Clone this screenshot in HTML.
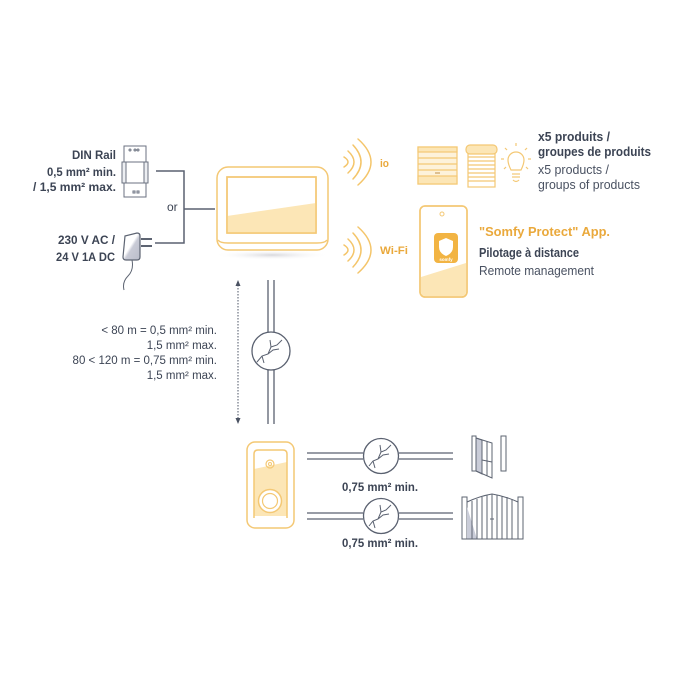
<!DOCTYPE html>
<html><head><meta charset="utf-8"><style>
html,body{margin:0;padding:0;background:#fff;}
svg{display:block;}
text{font-family:"Liberation Sans",sans-serif;}
</style></head><body>
<svg width="700" height="700" viewBox="0 0 700 700" xmlns="http://www.w3.org/2000/svg">
<defs>
<radialGradient id="sh" cx="50%" cy="50%" r="50%"><stop offset="0" stop-color="#d8d8dc"/><stop offset="1" stop-color="#ffffff" stop-opacity="0"/></radialGradient>
<linearGradient id="ad" x1="0" y1="0" x2="1" y2="1"><stop offset="0.45" stop-color="#ffffff"/><stop offset="0.55" stop-color="#c9cbd6"/><stop offset="1" stop-color="#b9bcc9"/></linearGradient>
</defs>
<rect width="700" height="700" fill="#fff"/>

<!-- Left texts -->
<g fill="#3c4454" font-weight="bold" font-size="12" text-anchor="end">
<text x="116" y="159" textLength="44" lengthAdjust="spacingAndGlyphs">DIN Rail</text>
<text x="116" y="176" textLength="69" lengthAdjust="spacingAndGlyphs">0,5 mm² min.</text>
<text x="116" y="191" textLength="83" lengthAdjust="spacingAndGlyphs">/ 1,5 mm² max.</text>
<text x="115" y="244" textLength="57" lengthAdjust="spacingAndGlyphs">230 V AC /</text>
<text x="115" y="261" textLength="59" lengthAdjust="spacingAndGlyphs">24 V 1A DC</text>
</g>
<text x="167" y="211" fill="#3c4454" font-size="12">or</text>

<!-- DIN rail icon -->
<g stroke="#6b7280" stroke-width="1" fill="#fff">
<rect x="124" y="146" width="22" height="51"/>
<rect x="122" y="162" width="26" height="21" fill="#eceef2"/>
<line x1="124" y1="162" x2="146" y2="162"/>
<line x1="124" y1="183" x2="146" y2="183"/>
<rect x="126" y="162" width="18" height="21" fill="#fff"/>
<circle cx="130" cy="150" r="1"/><circle cx="135" cy="150" r="1"/><circle cx="138" cy="150" r="1"/>
<rect x="133" y="191" width="2" height="2"/><rect x="137" y="191" width="2" height="2"/>
</g>
<!-- adapter -->
<g stroke="#5d6472" stroke-width="1.2">
<path d="M125 236 L137 233 Q140 233 140 236 L140 257 Q140 260 137 260 L126 260 Q123 260 123 257 Z" fill="url(#ad)"/>
<line x1="141" y1="239" x2="152" y2="239" stroke-width="2"/>
<line x1="141" y1="246" x2="152" y2="246" stroke-width="2"/>
<path d="M132 260 Q134 270 128 276 Q122 282 124 290" fill="none" stroke-width="1"/>
</g>
<!-- connectors -->
<g stroke="#5a6170" stroke-width="1.5" fill="none">
<path d="M156 171 H184 V243 H155"/>
<path d="M184 209 H215"/>
</g>

<!-- Monitor -->
<ellipse cx="272" cy="255" rx="58" ry="5" fill="url(#sh)"/>
<g stroke="#f4c874" stroke-width="1.5">
<rect x="217" y="167" width="111" height="83" rx="11" fill="#fff"/>
<path d="M218 240 Q220 243 228 243 H317 Q325 243 327 240" fill="none"/>
<rect x="227" y="177" width="89" height="56" fill="#fff"/>
<path d="M227 216 L316 203 L316 233 L227 233 Z" fill="#fce6b6" stroke="none"/>
<rect x="227" y="177" width="89" height="56" fill="none"/>
</g>

<!-- waves -->
<g stroke="#f4c56a" stroke-width="1.5" fill="none" stroke-linecap="round">
<path d="M344 157 Q352 162 344 167"/>
<path d="M348 151 Q360 162 348 173"/>
<path d="M353 145 Q369 162 353 179"/>
<path d="M358 139 Q384 162 358 185"/>
<path d="M344 245 Q352 250 344 255"/>
<path d="M348 239 Q360 250 348 261"/>
<path d="M353 233 Q369 250 353 267"/>
<path d="M358 227 Q384 250 358 273"/>
</g>
<g fill="#eaa93c" font-weight="bold" font-size="11">
<text x="380" y="167" textLength="9" lengthAdjust="spacingAndGlyphs">io</text>
<text x="380" y="254" textLength="28" lengthAdjust="spacingAndGlyphs">Wi-Fi</text>
</g>

<!-- products -->
<g stroke="#f4c874" stroke-width="1.2">
<rect x="418" y="147" width="39" height="37" fill="#fdf2da"/>
<rect x="418" y="147" width="39" height="5" fill="#fce6b6"/>
<line x1="418" y1="158" x2="457" y2="158"/>
<line x1="418" y1="164" x2="457" y2="164"/>
<line x1="418" y1="170" x2="457" y2="170"/>
<rect x="418" y="176" width="39" height="8" fill="#fce6b6"/>
<line x1="435" y1="173" x2="440" y2="173" stroke="#c9a060"/>
<rect x="468" y="151" width="27" height="36" fill="#fff"/>
<line x1="468" y1="157" x2="495" y2="157"/><line x1="468" y1="161" x2="495" y2="161"/>
<line x1="468" y1="165" x2="495" y2="165"/><line x1="468" y1="169" x2="495" y2="169"/>
<line x1="468" y1="173" x2="495" y2="173"/><line x1="468" y1="177" x2="495" y2="177"/>
<line x1="468" y1="181" x2="495" y2="181"/>
<rect x="466" y="145" width="31" height="9" rx="4" fill="#fce6b6"/>
<path d="M511 170 Q508 164 508 160 A8 8 0 1 1 524 160 Q524 164 521 170 Z" fill="#fff"/>
<line x1="512" y1="174" x2="520" y2="174"/><line x1="512" y1="177" x2="520" y2="177"/>
<path d="M513 180 Q516 183 519 180" fill="none"/>
<line x1="516" y1="143" x2="516" y2="146"/>
<line x1="505" y1="148" x2="507" y2="150"/><line x1="527" y1="148" x2="525" y2="150"/>
<line x1="501" y1="159" x2="504" y2="159"/><line x1="528" y1="159" x2="531" y2="159"/>
<line x1="504" y1="169" x2="506" y2="167"/><line x1="528" y1="169" x2="526" y2="167"/>
</g>
<g font-size="12.5">
<text x="538" y="141" fill="#3c4454" font-weight="bold" textLength="72" lengthAdjust="spacingAndGlyphs">x5 produits /</text>
<text x="538" y="156" fill="#3c4454" font-weight="bold" textLength="113" lengthAdjust="spacingAndGlyphs">groupes de produits</text>
<text x="538" y="174" fill="#4a5262" textLength="71" lengthAdjust="spacingAndGlyphs">x5 products /</text>
<text x="538" y="189" fill="#4a5262" textLength="102" lengthAdjust="spacingAndGlyphs">groups of products</text>
</g>

<!-- phone -->
<g stroke="#f4c874" stroke-width="1.5">
<rect x="420" y="206" width="47" height="91" rx="5" fill="#fff"/>
<path d="M421 277 L466 263 L466 292 Q466 296 462 296 L425 296 Q421 296 421 292 Z" fill="#fce6b6" stroke="none"/>
<rect x="420" y="206" width="47" height="91" rx="5" fill="none"/>
<circle cx="442" cy="214" r="2" fill="#fff" stroke-width="1"/>
</g>
<rect x="434" y="233" width="24" height="30" rx="4" fill="#f2b443"/>
<path d="M446 238 L453 241 L453 247 Q453 253 446 256 Q439 253 439 247 L439 241 Z" fill="#fff"/>
<text x="446" y="261" fill="#fff" font-size="4.5" font-weight="bold" text-anchor="middle">somfy</text>
<g font-size="12.5">
<text x="479" y="236" fill="#eaa93c" font-weight="bold" textLength="131" lengthAdjust="spacingAndGlyphs">"Somfy Protect" App.</text>
<text x="479" y="257" fill="#3c4454" font-weight="bold" textLength="100" lengthAdjust="spacingAndGlyphs">Pilotage à distance</text>
<text x="479" y="275" fill="#4a5262" textLength="115" lengthAdjust="spacingAndGlyphs">Remote management</text>
</g>

<!-- middle cable -->
<line x1="238" y1="285" x2="238" y2="419" stroke="#6b7280" stroke-width="1.2" stroke-dasharray="1.5 1.5"/>
<path d="M238 280 L235.5 286 L240.5 286 Z" fill="#4a5262"/>
<path d="M238 424 L235.5 418 L240.5 418 Z" fill="#4a5262"/>
<g stroke="#5a6170" stroke-width="1.3" fill="none">
<line x1="268" y1="280" x2="268" y2="332"/><line x1="274" y1="280" x2="274" y2="332"/>
<line x1="268" y1="370" x2="268" y2="424"/><line x1="274" y1="370" x2="274" y2="424"/>
<circle cx="271" cy="351" r="19" fill="#fff"/>
<path d="M257 362 L262 356 L268 354 L271 347 L270 340 M271 347 L277 345 L282 340 M262 356 L264 363 M268 354 L273 350 L279 349" stroke-width="1"/>
</g>
<g fill="#3c4454" font-size="11.5" text-anchor="end">
<text x="217" y="334">&lt; 80 m = 0,5 mm² min.</text>
<text x="217" y="349">1,5 mm² max.</text>
<text x="217" y="364">80 &lt; 120 m = 0,75 mm² min.</text>
<text x="217" y="379">1,5 mm² max.</text>
</g>

<!-- doorbell -->
<g stroke="#f4c874" stroke-width="1.5">
<rect x="247" y="442" width="47" height="86" rx="8" fill="#fff"/>
<path d="M254 469 L287 462 L287 516 L254 516 Z" fill="#fce6b6" stroke="none"/>
<path d="M254 518 V454 Q254 450 258 450 H283 Q287 450 287 454 V518" fill="none"/>
<circle cx="270" cy="464" r="4" fill="none" stroke-width="1.2"/>
<circle cx="270" cy="464" r="1.5" fill="none" stroke-width="1"/>
<circle cx="270" cy="501" r="11.5" fill="#fff"/>
<circle cx="270" cy="501" r="7.5" fill="#fff" stroke-width="1.2"/>
</g>

<!-- bottom wires -->
<g stroke="#5a6170" stroke-width="1.3" fill="none">
<line x1="307" y1="453" x2="363" y2="453"/><line x1="307" y1="459" x2="363" y2="459"/>
<line x1="399" y1="453" x2="453" y2="453"/><line x1="399" y1="459" x2="453" y2="459"/>
<circle cx="381" cy="456" r="17.5" fill="#fff"/>
<path d="M369 466 L373 461 L378 459 L381 452 L380 445 M381 452 L386 450 L391 445 M373 461 L375 468 M378 459 L383 455 L389 454" stroke-width="1"/>
<line x1="307" y1="513" x2="363" y2="513"/><line x1="307" y1="519" x2="363" y2="519"/>
<line x1="399" y1="513" x2="453" y2="513"/><line x1="399" y1="519" x2="453" y2="519"/>
<circle cx="381" cy="516" r="17.5" fill="#fff"/>
<path d="M369 526 L373 521 L378 519 L381 512 L380 505 M381 512 L386 510 L391 505 M373 521 L375 528 M378 519 L383 515 L389 514" stroke-width="1"/>
</g>
<g fill="#3c4454" font-weight="bold" font-size="12" text-anchor="middle">
<text x="380" y="491" textLength="76" lengthAdjust="spacingAndGlyphs">0,75 mm² min.</text>
<text x="380" y="547" textLength="76" lengthAdjust="spacingAndGlyphs">0,75 mm² min.</text>
</g>

<!-- gates -->
<g stroke="#5d6472" stroke-width="1" fill="#fff">
<path d="M476 438 L482 440 L482 474 L476 471 Z" fill="#c9ccd8"/>
<rect x="472" y="436" width="4" height="35"/>
<path d="M476 438 L492 443 L492 478 L476 471 Z" fill="none"/>
<line x1="482" y1="440" x2="482" y2="474"/>
<line x1="487" y1="441" x2="487" y2="476"/>
<line x1="482" y1="460" x2="492" y2="462"/>
<rect x="501" y="436" width="5" height="35"/>
<rect x="462" y="497" width="5" height="42"/>
<rect x="518" y="497" width="5" height="42"/>
<path d="M467 502 Q480 496 492 494 Q505 496 518 502 L518 539 L467 539 Z" fill="#fff"/>
<path d="M467 507 L477 539 L467 539 Z" fill="#c9ccd8" stroke="none"/>
<line x1="472" y1="501" x2="472" y2="539"/><line x1="477" y1="499" x2="477" y2="539"/>
<line x1="482" y1="497" x2="482" y2="539"/><line x1="487" y1="495" x2="487" y2="539"/>
<line x1="492" y1="494" x2="492" y2="539"/><line x1="497" y1="495" x2="497" y2="539"/>
<line x1="502" y1="496" x2="502" y2="539"/><line x1="507" y1="497" x2="507" y2="539"/>
<line x1="512" y1="499" x2="512" y2="539"/>
<line x1="490" y1="519" x2="494" y2="519"/>
<line x1="462" y1="539" x2="523" y2="539"/>
</g>
</svg>
</body></html>
